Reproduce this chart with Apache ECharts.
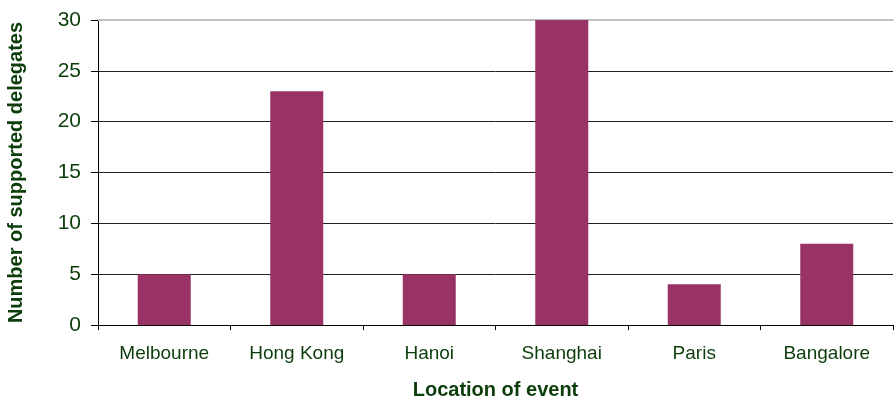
<!DOCTYPE html>
<html>
<head>
<meta charset="utf-8">
<script src="https://cdn.jsdelivr.net/npm/echarts@6/dist/echarts.min.js"></script>
<style>
  html, body { margin: 0; padding: 0; background: #fff; }
  #chart { width: 894px; height: 401px; }
</style>
</head>
<body>
<div id="chart"></div>
<script>
// data
const locations = ['Melbourne', 'Hong Kong', 'Hanoi', 'Shanghai', 'Paris', 'Bangalore'];
const delegates = [5, 23, 5, 30, 4, 8];

const textColor = '#0b3d0b';
const font = 'Arial, "Liberation Sans", sans-serif';

const chart = echarts.init(document.getElementById('chart'));

const option = {
    animation: false,
    grid: {
        left: 98,
        right: 1,
        top: 20,
        bottom: 76,
        outerBoundsMode: 'none'
    },
    xAxis: [
        {
            type: 'category',
            data: locations,
            name: 'Location of event',
            nameLocation: 'middle',
            nameGap: 55,
            nameTextStyle: { fontFamily: font, fontSize: 20, fontWeight: 'bold', color: textColor },
            axisLine: { lineStyle: { color: '#000', width: 1 } },
            axisTick: { show: true, length: 5, lineStyle: { color: '#000' } },
            axisLabel: { fontFamily: font, fontSize: 19, color: textColor, margin: 19, interval: 0 }
        },
        {
            // gray top border of the plot
            type: 'category',
            data: locations,
            position: 'top',
            axisLine: { lineStyle: { color: '#c0c0c0', width: 2 } },
            axisTick: { show: false },
            axisLabel: { show: false }
        }
    ],
    yAxis: {
        type: 'value',
        min: 0,
        max: 30,
        interval: 5,
        name: 'Number of supported delegates',
        nameLocation: 'middle',
        nameGap: 72,
        nameTextStyle: { fontFamily: font, fontSize: 20, fontWeight: 'bold', color: textColor },
        axisLine: { show: true, lineStyle: { color: '#000', width: 1 } },
        axisTick: { show: true, length: 7, lineStyle: { color: '#000' } },
        axisLabel: { fontFamily: font, fontSize: 21, color: textColor, margin: 17 },
        splitLine: { show: true, lineStyle: { color: '#222', width: 1 } }
    },
    series: [
        {
            type: 'bar',
            data: delegates,
            barWidth: '40%',
            itemStyle: { color: '#993366' }
        }
    ]
};

chart.setOption(option);
</script>
</body>
</html>
